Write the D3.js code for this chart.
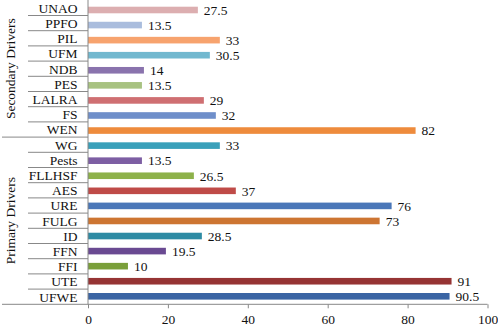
<!DOCTYPE html>
<html><head><meta charset="utf-8">
<script src="https://cdn.jsdelivr.net/npm/d3@7"></script>
<style>body{margin:0;background:#fff}svg{display:block}</style>
</head><body>
<svg id="c" width="498" height="326" font-family="'Liberation Serif','Times New Roman',serif"></svg>
<script>
const categories = ["UNAO","PPFO","PIL","UFM","NDB","PES","LALRA","FS","WEN","WG","Pests","FLLHSF","AES","URE","FULG","ID","FFN","FFI","UTE","UFWE"];
const groups = ["Secondary Drivers","Secondary Drivers","Secondary Drivers","Secondary Drivers","Secondary Drivers","Secondary Drivers","Secondary Drivers","Secondary Drivers","Secondary Drivers","Primary Drivers","Primary Drivers","Primary Drivers","Primary Drivers","Primary Drivers","Primary Drivers","Primary Drivers","Primary Drivers","Primary Drivers","Primary Drivers","Primary Drivers"];
const values = [27.5,13.5,33,30.5,14,13.5,29,32,82,33,13.5,26.5,37,76,73,28.5,19.5,10,91,90.5];
const colors = ["#dcaeb0","#aabddd","#f7a36e","#72b8cf","#8a73ad","#a8c281","#cf6f72","#6f8fca","#ee8b3c","#3aa0ba","#7d5ea3","#8db14a","#bf4b48","#4a77b8","#cd7532","#2e8ba4","#6a4a92","#7a9f3a","#963434","#3b65a4"];
const xTicks = [0,20,40,60,80,100];

(function(){
const FONT = "'Liberation Serif','Times New Roman',serif";
const svg = d3.select("#c");
const mLeft = 88, mRight = 487.5, mTop = 0.3, mBottom = 304.3;
const x = d3.scaleLinear().domain([0,100]).range([mLeft,mRight]);
const y = d3.scaleBand().domain(categories).range([mTop,mBottom]).paddingInner(0).paddingOuter(0);
const yb = d3.scalePoint().domain(categories).range([10,296.3]);
const bh = 6.6;

svg.selectAll("rect.bar").data(categories).join("rect")
  .attr("class","bar")
  .attr("x", x(0))
  .attr("y", (d)=> yb(d)-bh/2)
  .attr("width", (d,i)=> x(values[i])-x(0))
  .attr("height", bh)
  .attr("fill", (d,i)=>colors[i]);

svg.selectAll("text.val").data(categories).join("text")
  .attr("class","val")
  .attr("x", (d,i)=> x(values[i])+6)
  .attr("y", (d)=> yb(d)+4.8)
  .attr("font-size",13.5).attr("font-family",FONT).attr("fill","#111")
  .text((d,i)=>values[i]);

const xa = svg.append("g").attr("transform",`translate(0,${mBottom})`)
  .call(d3.axisBottom(x).tickValues(xTicks).tickSize(4).tickSizeOuter(0));
xa.select(".domain").remove();
xa.selectAll("line").attr("stroke","#888");
xa.selectAll("text").attr("font-size",13.5).attr("dy","0.95em").attr("font-family",FONT).attr("fill","#111");
svg.append("line").attr("x1",2).attr("x2",mRight).attr("y1",mBottom).attr("y2",mBottom).attr("stroke","#888");
svg.append("line").attr("x1",mLeft).attr("x2",mLeft).attr("y1",0).attr("y2",mBottom).attr("stroke","#888");

svg.selectAll("text.cat").data(categories).join("text")
  .attr("class","cat")
  .attr("x", 77.5)
  .attr("y", (d)=> y(d)+y.bandwidth()/2+4.8)
  .attr("text-anchor","end")
  .attr("font-size",13.5).attr("font-family",FONT).attr("fill","#111")
  .text(d=>d);

categories.forEach((d,i)=>{
  if(i===0) return;
  const yy = y(d);
  const groupBreak = groups[i]!==groups[i-1];
  svg.append("line").attr("x1", groupBreak?2:28).attr("x2",mLeft).attr("y1",yy).attr("y2",yy).attr("stroke","#888");
});

const gNames = Array.from(new Set(groups));
gNames.forEach(g=>{
  const idx = categories.filter((c,i)=>groups[i]===g);
  const y0 = y(idx[0]), y1 = y(idx[idx.length-1])+y.bandwidth();
  const cy = (y0+y1)/2;
  svg.append("text").attr("transform",`translate(15,${cy}) rotate(-90)`)
    .attr("text-anchor","middle").attr("font-size",13.5).attr("font-family",FONT).attr("fill","#111").text(g);
});
})();
</script>
</body></html>
